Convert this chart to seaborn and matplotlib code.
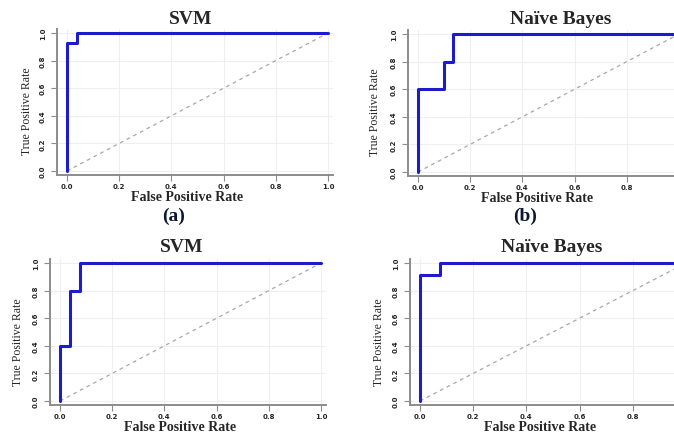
import matplotlib
matplotlib.use("Agg")
import matplotlib.pyplot as plt
import seaborn as sns

# Datos de las curvas ROC
svm_a_fpr = [0.0, 0.0, 0.04, 0.04, 1.0]
svm_a_tpr = [0.0, 0.93, 0.93, 1.0, 1.0]

nb_b_fpr = [0.0, 0.0, 0.10, 0.10, 0.133, 0.133, 1.0]
nb_b_tpr = [0.0, 0.60, 0.60, 0.80, 0.80, 1.0, 1.0]

svm_c_fpr = [0.0, 0.0, 0.04, 0.04, 0.077, 0.077, 1.0]
svm_c_tpr = [0.0, 0.40, 0.40, 0.80, 0.80, 1.0, 1.0]

nb_d_fpr = [0.0, 0.0, 0.075, 0.075, 1.0]
nb_d_tpr = [0.0, 0.91, 0.91, 1.0, 1.0]

chance = [0.0, 1.0]
ticks = [0.0, 0.2, 0.4, 0.6, 0.8, 1.0]
tick_labels = ["0.0", "0.2", "0.4", "0.6", "0.8", "1.0"]

titles = ["SVM", "Naïve Bayes", "SVM", "Naïve Bayes"]
letters = ["(a)", "(b)", "(c)", "(d)"]

# Estilo
sns.set_style("whitegrid", {"grid.color": "#efefef", "axes.edgecolor": "#8c8c8c"})
plt.rcParams["font.family"] = ["Liberation Serif", "DejaVu Serif"]

W, H = 674, 439
fig = plt.figure(figsize=(W / 100, H / 100), dpi=100)

xlim = (-0.038, 1.02)
ylim = (-0.03, 1.03)

# posicion en pixeles de (0,0) y escala de cada panel
panels = [
    dict(x0=67, sx=261, y0=172, sy=138, fpr=svm_a_fpr, tpr=svm_a_tpr,
         tx=191, ty=19, lx=187, ly=198, yx=27, yy=111, px=174, py=216),
    dict(x0=418, sx=261, y0=173, sy=138, fpr=nb_b_fpr, tpr=nb_b_tpr,
         tx=561, ty=19, lx=537, ly=199, yx=375, yy=112, px=525, py=216),
    dict(x0=60, sx=261, y0=402, sy=138, fpr=svm_c_fpr, tpr=svm_c_tpr,
         tx=182, ty=248, lx=180, ly=428, yx=18, yy=342, px=170, py=451),
    dict(x0=420, sx=266, y0=402, sy=138, fpr=nb_d_fpr, tpr=nb_d_tpr,
         tx=552, ty=248, lx=540, ly=428, yx=379, yy=342, px=540, py=451),
]

for i, p in enumerate(panels):
    left = p["x0"] + xlim[0] * p["sx"]
    width = (xlim[1] - xlim[0]) * p["sx"]
    bottom_px = p["y0"] - ylim[0] * p["sy"]
    height = (ylim[1] - ylim[0]) * p["sy"]
    ax = fig.add_axes([left / W, 1 - bottom_px / H, width / W, height / H])

    sns.lineplot(x=chance, y=chance, ax=ax, color="#a8a8a8", linewidth=0.9,
                 linestyle=(0, (3, 3)), estimator=None, sort=False)
    sns.lineplot(x=p["fpr"], y=p["tpr"], ax=ax, color="#1c1ccc", linewidth=2.2,
                 estimator=None, sort=False)

    ax.set_xlim(*xlim)
    ax.set_ylim(*ylim)
    ax.set_xticks(ticks)
    ax.set_xticklabels(tick_labels, fontsize=5, fontweight="bold", family="DejaVu Sans")
    ax.set_yticks(ticks)
    ax.set_yticklabels(tick_labels, fontsize=5, fontweight="bold", family="DejaVu Sans",
                       rotation=90, va="center")
    ax.tick_params(axis="both", length=4, width=0.8, color="#8c8c8c", pad=2,
                   bottom=True, left=True)
    ax.tick_params(axis="y", pad=4)
    sns.despine(ax=ax)
    for s in ["left", "bottom"]:
        ax.spines[s].set_linewidth(1.4)
    ax.grid(True, linewidth=0.8)

    fig.text(p["tx"] / W, 1 - p["ty"] / H, titles[i], ha="center", va="center",
             fontsize=14, fontweight="bold")
    fig.text(p["lx"] / W, 1 - p["ly"] / H, "False Positive Rate", ha="center",
             va="center", fontsize=10, fontweight="bold")
    fig.text(p["yx"] / W, 1 - p["yy"] / H, "True Positive Rate", ha="center",
             va="center", fontsize=8.5, rotation=90)
    fig.text(p["px"] / W, 1 - p["py"] / H, letters[i], ha="center", va="center",
             fontsize=14, fontweight="bold", color="#0b1633")

fig.savefig("out.png", dpi=100)
